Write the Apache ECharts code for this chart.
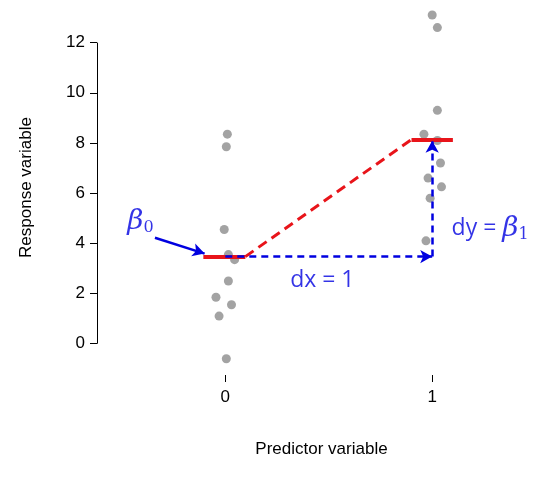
<!DOCTYPE html>
<html><head><meta charset="utf-8">
<script src="https://cdn.jsdelivr.net/npm/echarts@6/dist/echarts.min.js"></script>
<style>html,body{margin:0;background:#fff}#c{width:557px;height:477px}</style>
</head><body><div id="c"></div>
<script>
const xTicks = [0, 1];
const yTicks = [0, 2, 4, 6, 8, 10, 12];
const group0 = [[0.01,8.35],[0.005,7.85],[-0.005,4.55],[0.015,3.55],[0.045,3.35],[0.015,2.5],[-0.045,1.85],[0.03,1.55],[-0.03,1.1],[0.005,-0.6]];
const group1 = [[1.0,13.1],[1.025,12.6],[1.025,9.3],[0.96,8.35],[1.025,8.1],[1.04,7.2],[0.98,6.6],[1.045,6.25],[0.99,5.8],[0.97,4.1]];
const means = [3.47, 8.14];

const blue = '#0000e0', red = '#e8141a';
const chart = echarts.init(document.getElementById('c'));
const font = 'Liberation Sans, Arial, sans-serif';
chart.setOption({
  animation: false,
  grid: {left: 97, top: 10, width: 449, height: 355},
  xAxis: {type: 'value', min: -0.62, max: 1.55, offset: 10, splitLine: {show: false},
    axisLine: {show: false, onZero: false},
    axisTick: {show: true, length: 7, customValues: xTicks, lineStyle: {color: '#000'}},
    axisLabel: {customValues: xTicks, fontSize: 17, color: '#000', fontFamily: font, margin: 14},
    name: 'Predictor variable', nameLocation: 'middle', nameGap: 66,
    nameTextStyle: {fontSize: 17, color: '#000', fontFamily: font}},
  yAxis: {type: 'value', min: -0.85, max: 13.3, splitLine: {show: false},
    axisLine: {show: false, onZero: false},
    axisTick: {show: true, length: 7, customValues: yTicks, lineStyle: {color: '#000'}},
    axisLabel: {customValues: yTicks, fontSize: 17, color: '#000', fontFamily: font, margin: 12},
    name: 'Response variable', nameLocation: 'middle', nameGap: 62, nameRotate: 90,
    nameTextStyle: {fontSize: 17, color: '#000', fontFamily: font}},
  series: [
    {type: 'scatter', data: group0.concat(group1), symbolSize: 9, itemStyle: {color: '#8c8c8c'}, z: 2},
    {type: 'line', data: [], silent: true, markLine: {silent: true, symbol: 'none', animation: false,
      label: {show: false},
      data: [
        [{coord: [-0.62, 0], lineStyle: {color: '#000', width: 1, type: 'solid'}}, {coord: [-0.62, 12]}],
        [{coord: [0, -1.24], lineStyle: {color: '#000', width: 1, type: 'solid'}}, {coord: [1, -1.24]}],
        [{coord: [-0.106, means[0]], lineStyle: {color: red, width: 4, type: 'solid'}}, {coord: [0.097, means[0]]}],
        [{coord: [0.9, means[1]], lineStyle: {color: red, width: 4, type: 'solid'}}, {coord: [1.1, means[1]]}],
        [{coord: [0.097, means[0]], lineStyle: {color: red, width: 3, type: [10, 6]}}, {coord: [0.9, means[1]]}]
      ]}},
    {type: 'line', data: [], silent: true, markLine: {silent: true, symbol: ['none', 'arrow'], symbolSize: [10, 12], animation: false,
      label: {show: false},
      data: [
        [{coord: [0, means[0]], lineStyle: {color: blue, width: 2.5, type: [7, 5]}}, {coord: [1, means[0]]}],
        [{coord: [1, means[0]], lineStyle: {color: blue, width: 2.5, type: [7, 5]}}, {coord: [1, means[1] - 0.05]}],
        [{coord: [-0.34, 4.22], lineStyle: {color: blue, width: 2.5, type: 'solid'}}, {coord: [-0.1, 3.59]}]
      ]}},
    {type: 'scatter', symbolSize: 0, silent: true, clip: false,
      label: {show: true, position: 'inside', color: blue, fontSize: 23, fontFamily: 'Open Sans, sans-serif',
        formatter: p => p.data.t,
        rich: {b: {fontStyle: 'italic', fontSize: 28, color: blue, fontFamily: 'DejaVu Serif'},
               s: {fontSize: 16, color: blue, verticalAlign: 'bottom', padding: [12, 0, 0, 0], fontFamily: 'DejaVu Serif'}}},
      data: [
        {value: [0.469, 2.51], t: 'dx = 1'},
        {value: [1.28, 4.58], t: 'dy = {b|β}{s|1}'},
        {value: [-0.41, 4.86], t: '{b|β}{s|0}'}
      ]}
  ]
});
</script></body></html>
